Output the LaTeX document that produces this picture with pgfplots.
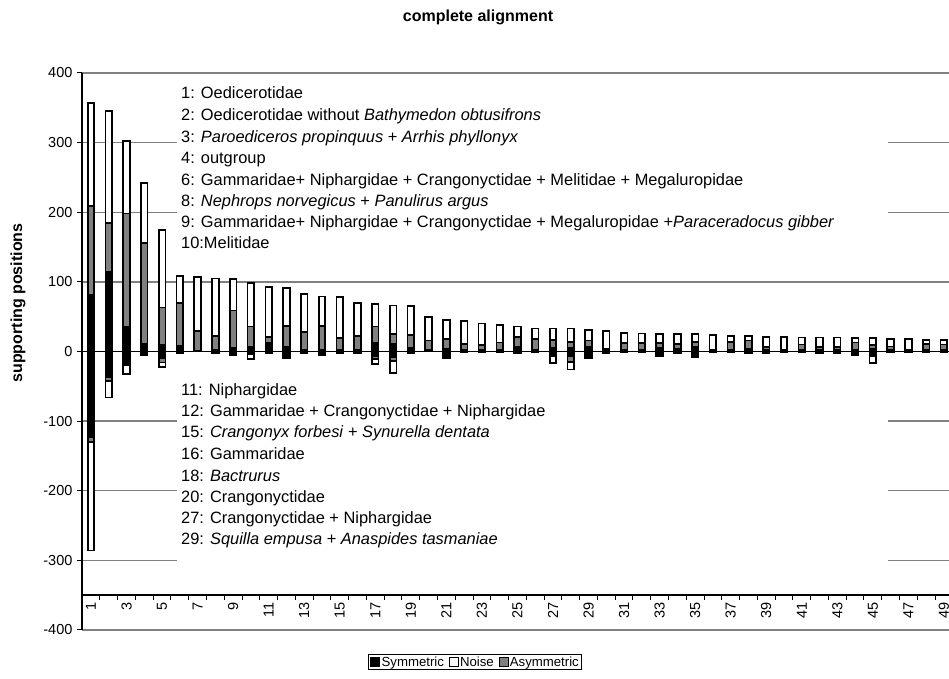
\documentclass[border=0pt]{standalone}
\usepackage{pgfplots}
\usepackage{pgfplotstable}
\pgfplotsset{compat=1.18}
\usepackage{fontspec}
\setmainfont{Liberation Sans}
\definecolor{asym}{HTML}{808080}
\definecolor{gridc}{HTML}{808080}

% s = top of Symmetric, g = top of Asymmetric, t = top of Noise (positive stack)
% sn, gn, tn = same for the negative stack
\pgfplotstableread{
k s g t sn gn tn
1 82 209 357 -123 -130 -286
2 115 185 345 -37 -42 -66
3 35 198 302 -19 -19 -32
4 11 156 242 -5 -5 -5
5 10 63 175 -10 -16 -22
6 8 70 108 -2 -2 -2
7 1 29 107 0 0 0
8 2 22 105 -3 -3 -3
9 5 59 104 -5 -5 -5
10 6 36 98 -4 -4 -11
11 12 21 93 -2 -2 -2
12 6 37 91 -9 -9 -9
13 2 28 83 -3 -3 -3
14 3 37 79 -5 -5 -5
15 2 19 78 -3 -3 -3
16 2 22 70 -3 -3 -3
17 13 36 68 -6 -11 -18
18 11 25 66 -8 -14 -31
19 5 24 65 -2 -2 -2
20 2 16 50 0 0 0
21 4 18 45 -6 -6 -9
22 2 11 44 -1 -1 -1
23 2 9 40 -1 -1 -1
24 2 13 38 -1 -1 -1
25 7 21 36 -2 -2 -2
26 2 18 33 -1 -1 -1
27 5 17 33 -6 -6 -17
28 5 14 33 -6 -15 -26
29 6 16 31 -6 -6 -9
30 3 4 29 -2 -2 -2
31 2 12 27 -1 -1 -1
32 2 12 26 -1 -1 -1
33 5 12 25 -6 -6 -6
34 4 11 25 -2 -2 -2
35 6 14 25 -8 -8 -8
36 2 3 24 -1 -1 -1
37 2 14 22 -1 -1 -1
38 4 16 22 -2 -2 -2
39 2 6 21 -3 -3 -3
40 2 3 21 -1 -1 -1
41 2 10 20 -1 -1 -1
42 2 6 20 -2 -2 -2
43 2 6 20 -2 -2 -2
44 2 13 19 -5 -5 -5
45 4 9 19 -6 -6 -17
46 2 7 18 -1 -1 -1
47 2 3 18 -1 -1 -1
48 2 11 17 -1 -1 -1
49 2 10 17 -1 -1 -1
}\data

\begin{document}
\begin{tikzpicture}[x=1pt,y=1pt]
\useasboundingbox (0,0) rectangle (949,679);
\begin{axis}[
  at={(82.1pt,49pt)}, anchor=south west,
  scale only axis, width=866.9pt, height=557pt,
  xmin=0.5, xmax=49.286, ymin=-400, ymax=400,
  axis y line*=left, axis x line*=bottom,
  axis x line shift=-34.8125pt,
  y axis line style={line width=1.4pt, black},
  x axis line style={line width=1.4pt, black},
  ytick={-400,-300,...,400},
  ymajorgrids,
  grid style={draw=gridc, line width=1.3pt},
  extra y ticks={0}, extra y tick labels={},
  extra y tick style={grid style={draw=black, line width=1.4pt}},
  xtick={1,3,...,49},
  minor xtick={0.5,1.5,...,48.5},
  major x tick style={draw=none},
  minor x tick style={draw=black, line width=1pt},
  ytick style={draw=black, line width=1pt},
  tick align=outside,
  major tick length=5pt, minor tick length=5pt,
  /pgf/number format/assume math mode=true,
  xticklabel style={rotate=90, anchor=east, font=\fontsize{14.5}{14.5}\selectfont, inner sep=0.5pt, xshift=-1.5pt},
  yticklabel style={font=\fontsize{14.5}{14.5}\selectfont, inner sep=4.5pt},
  legend image code/.code={\draw[#1, line width=1pt] (0pt,-4.5pt) rectangle (9pt,4.5pt);},
  legend columns=3,
  legend style={at={(0.4532,-0.0575)}, anchor=center, draw=black, line width=0.9pt,
    font=\fontsize{13.2}{14}\selectfont, inner sep=1.5pt,
    nodes={inner sep=0.8pt},
    /tikz/every odd column/.append style={column sep=0.5pt},
    /tikz/every even column/.append style={column sep=4pt}},
]
% positive stack (drawn outermost first)
\addplot[ybar, bar shift=0pt, bar width=6.6pt, fill=white, draw=black, line width=1.7pt, forget plot] table[x=k,y=t] {\data};
\addplot[ybar, bar shift=0pt, bar width=6.6pt, fill=asym, draw=black, line width=1.7pt, forget plot] table[x=k,y=g] {\data};
\addplot[ybar, bar shift=0pt, bar width=6.6pt, fill=black, draw=black, line width=1.7pt, forget plot] table[x=k,y=s] {\data};
% negative stack
\addplot[ybar, bar shift=0pt, bar width=6.6pt, fill=white, draw=black, line width=1.7pt, forget plot] table[x=k,y=tn] {\data};
\addplot[ybar, bar shift=0pt, bar width=6.6pt, fill=asym, draw=black, line width=1.7pt, forget plot] table[x=k,y=gn] {\data};
\addplot[ybar, bar shift=0pt, bar width=6.6pt, fill=black, draw=black, line width=1.7pt, forget plot] table[x=k,y=sn] {\data};
\addlegendimage{fill=black, draw=black}
\addlegendentry{Symmetric}
\addlegendimage{fill=white, draw=black}
\addlegendentry{Noise}
\addlegendimage{fill=asym, draw=black}
\addlegendentry{Asymmetric}
\end{axis}
% title and y label
\node[font=\bfseries\fontsize{16}{16}\selectfont] at (478,662) {complete alignment};
\node[rotate=90, font=\bfseries\fontsize{16}{16}\selectfont] at (18,376) {supporting positions};
% upper text box
\fill[white] (177,599) rectangle (888,417);
\begin{scope}[every node/.style={anchor=base west, inner sep=0pt, font=\fontsize{16.4}{16.4}\selectfont}]
\node at (181,{679-99}) {1: Oedicerotidae};
\node at (181,{679-121}) {2: Oedicerotidae without \textit{Bathymedon obtusifrons}};
\node at (181,{679-143}) {3: \textit{Paroediceros propinquus} + \textit{Arrhis phyllonyx}};
\node at (181,{679-164}) {4: outgroup};
\node at (181,{679-186}) {6: Gammaridae+ Niphargidae + Crangonyctidae + Melitidae + Megaluropidae};
\node at (181,{679-207}) {8: \textit{Nephrops norvegicus} + \textit{Panulirus argus}};
\node at (181,{679-228}) {9: Gammaridae+ Niphargidae + Crangonyctidae + Megaluropidae +\textit{Paraceradocus gibber}};
\node at (181,{679-249}) {10:Melitidae};
\end{scope}
% lower text box
\fill[white] (177,{679-377}) rectangle (888,{679-588});
\begin{scope}[every node/.style={anchor=base west, inner sep=0pt, font=\fontsize{16.4}{16.4}\selectfont}]
\node at (181,{679-396}) {11: Niphargidae};
\node at (181,{679-417}) {12: Gammaridae + Crangonyctidae + Niphargidae};
\node at (181,{679-438}) {15: \textit{Crangonyx forbesi} + \textit{Synurella dentata}};
\node at (181,{679-460}) {16: Gammaridae};
\node at (181,{679-482}) {18: \textit{Bactrurus}};
\node at (181,{679-503}) {20: Crangonyctidae};
\node at (181,{679-524}) {27: Crangonyctidae + Niphargidae};
\node at (181,{679-545}) {29: \textit{Squilla empusa} + \textit{Anaspides tasmaniae}};
\end{scope}
\end{tikzpicture}
\end{document}
